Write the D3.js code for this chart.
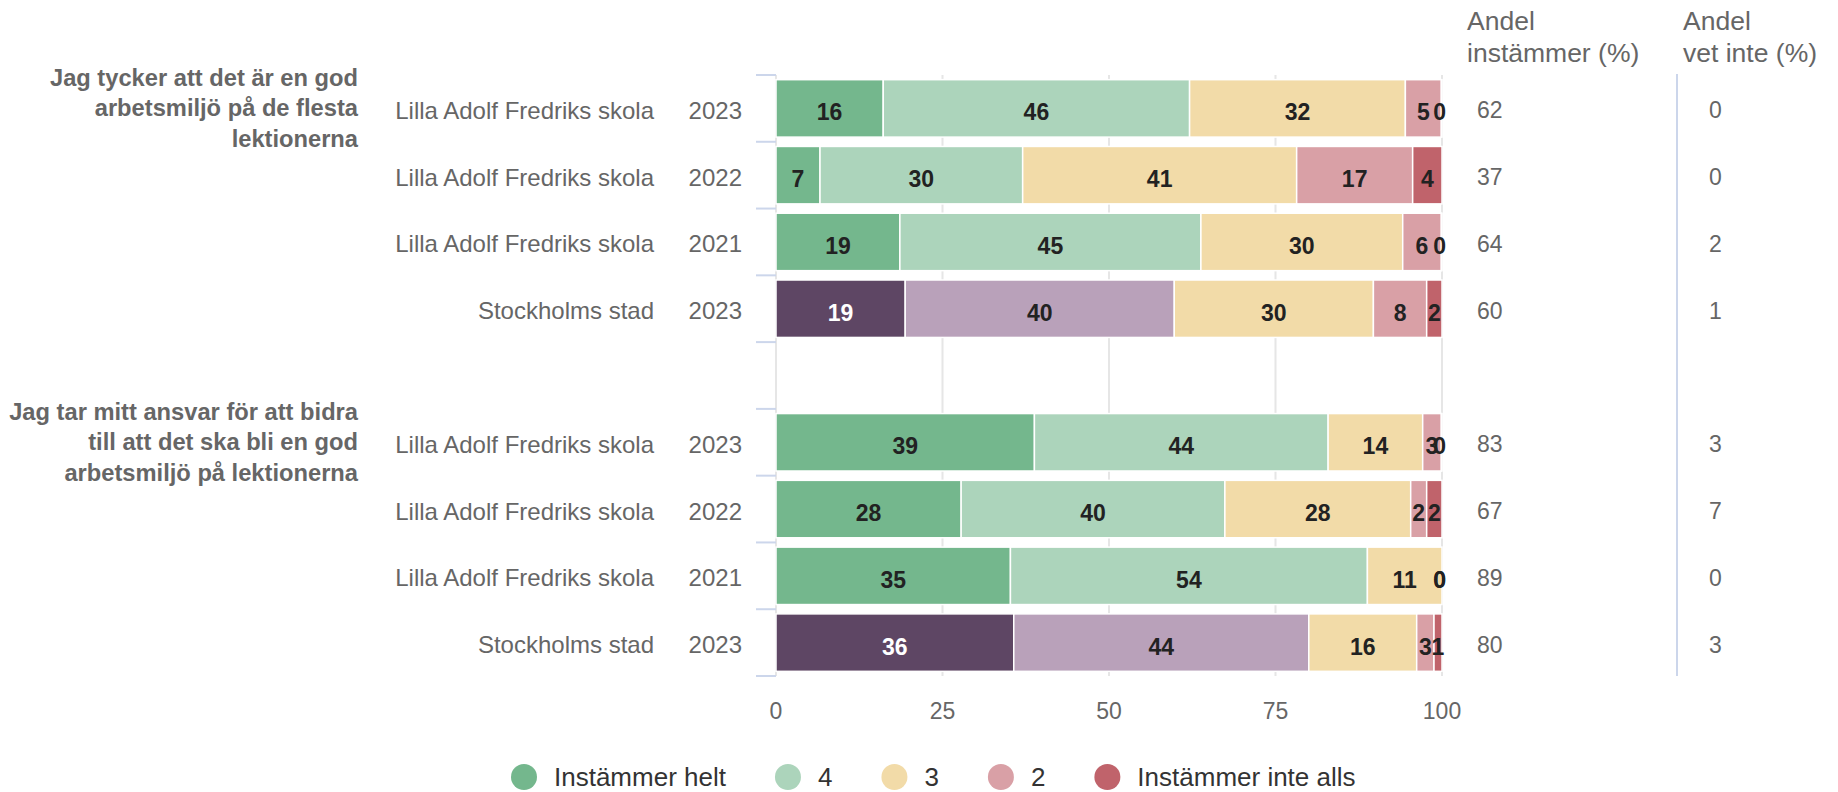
<!DOCTYPE html>
<html>
<head>
<meta charset="utf-8">
<script src="https://cdn.jsdelivr.net/npm/d3@7"></script>
<style>
  body { margin: 0; background: #fff; }
  text { font-family: Helvetica, Arial, "Liberation Sans", sans-serif; }
</style>
</head>
<body>
<div id="chart"></div>
<script>
// questions (split in lines as shown)
const questions = [
  ["Jag tycker att det är en god", "arbetsmiljö på de flesta", "lektionerna"],
  ["Jag tar mitt ansvar för att bidra", "till att det ska bli en god", "arbetsmiljö på lektionerna"]
];
const units = ["Lilla Adolf Fredriks skola", "Lilla Adolf Fredriks skola", "Lilla Adolf Fredriks skola", "Stockholms stad",
               "Lilla Adolf Fredriks skola", "Lilla Adolf Fredriks skola", "Lilla Adolf Fredriks skola", "Stockholms stad"];
const years = ["2023", "2022", "2021", "2023", "2023", "2022", "2021", "2023"];
const seriesNames = ["Instämmer helt", "4", "3", "2", "Instämmer inte alls"];

// values per answer (%), one entry per row
const helt     = [16.1,  6.6, 18.6, 19.4, 38.8, 27.8, 35.2, 35.7];
const fyra     = [46.0, 30.4, 45.2, 40.4, 44.1, 39.6, 53.6, 44.3];
const tre      = [32.4, 41.1, 30.3, 29.9, 14.2, 27.9, 11.2, 16.2];
const tva      = [ 5.4, 17.4,  5.8,  8.0,  2.8,  2.4,  0.0,  2.6];
const inteAlls = [ 0.1,  4.4,  0.1,  2.3,  0.1,  2.3,  0.0,  1.2];

const andelInstammer = [62, 37, 64, 60, 83, 67, 89, 80];
const andelVetInte   = [0, 0, 2, 1, 3, 7, 0, 3];
const xTicks = [0, 25, 50, 75, 100];

const colors = ["#74b78d", "#acd4bb", "#f2dba8", "#d9a0a6", "#c0636b"];
const cityColors = ["#5e4664", "#b9a1ba", "#f2dba8", "#d9a0a6", "#c0636b"];

const width = 1838, height = 792;
const svg = d3.select("#chart").append("svg")
  .attr("width", width).attr("height", height);

// row keys, with an empty slot between the two questions
const rowKeys = ["r0", "r1", "r2", "r3", "gap", "r4", "r5", "r6", "r7"];
const rowIndex = [0, 1, 2, 3, 4, 5, 6, 7];

const x = d3.scaleLinear().domain([0, 100]).range([776, 1442]);
const y = d3.scaleBand().domain(rowKeys).range([75, 676])
  .paddingInner(0.14).paddingOuter(0.07);

const rowKey = i => "r" + i;
const midY = i => y(rowKey(i)) + y.bandwidth() / 2;
const isCity = i => units[i] === "Stockholms stad";

// gridlines
svg.append("g").selectAll("line")
  .data(xTicks)
  .enter().append("line")
    .attr("x1", d => x(d)).attr("x2", d => x(d))
    .attr("y1", 75).attr("y2", 676)
    .attr("stroke", "#e6e6e6").attr("stroke-width", 2);

// left axis ticks on band boundaries
const step = y.step();
const boundaries = d3.range(rowKeys.length + 1).map(i => y(rowKeys[0]) - step * 0.07 + i * step);
svg.append("g").selectAll("line")
  .data(boundaries)
  .enter().append("line")
    .attr("x1", 756).attr("x2", 776)
    .attr("y1", d => d).attr("y2", d => d)
    .attr("stroke", "#ccd6eb").attr("stroke-width", 2);

// x axis labels
svg.append("g").selectAll("text")
  .data(xTicks)
  .enter().append("text")
    .attr("x", d => x(d)).attr("y", 719)
    .attr("text-anchor", "middle")
    .attr("fill", "#666").style("font-size", "23px")
    .text(d => d);

// stack segments
const allSeries = [helt, fyra, tre, tva, inteAlls];
const segments = [];
rowIndex.forEach(i => {
  const total = d3.sum(allSeries, s => s[i]);
  let cum = 0;
  allSeries.forEach((s, k) => {
    const v = s[i] / total * 100;
    segments.push({row: i, k: k, x0: cum, x1: cum + v, label: Math.round(s[i])});
    cum += v;
  });
});

svg.append("g").selectAll("rect")
  .data(segments.filter(d => d.x1 > d.x0))
  .enter().append("rect")
    .attr("x", d => x(d.x0))
    .attr("y", d => y(rowKey(d.row)))
    .attr("width", d => x(d.x1) - x(d.x0))
    .attr("height", y.bandwidth())
    .attr("fill", d => (isCity(d.row) ? cityColors : colors)[d.k])
    .attr("stroke", "#fff").attr("stroke-width", 1.5);

// data labels
svg.append("g").selectAll("text")
  .data(segments)
  .enter().append("text")
    .attr("y", d => midY(d.row) + 12)
    .attr("text-anchor", "middle")
    .attr("fill", d => (isCity(d.row) && d.k === 0) ? "#fff" : "#222")
    .style("font-size", "23px").style("font-weight", "bold")
    .text(d => d.label)
    .each(function(d) {
      const w = this.getComputedTextLength();
      let cx = x((d.x0 + d.x1) / 2);
      if (cx + w / 2 > x(100) + 4) cx = x(100) + 4 - w / 2;
      d3.select(this).attr("x", cx);
    });

// row labels
svg.append("g").selectAll("text")
  .data(rowIndex)
  .enter().append("text")
    .attr("x", 654).attr("y", i => midY(i) + 10.5)
    .attr("text-anchor", "end").attr("fill", "#666").style("font-size", "24px")
    .text(i => units[i]);
svg.append("g").selectAll("text")
  .data(rowIndex)
  .enter().append("text")
    .attr("x", 742).attr("y", i => midY(i) + 10.5)
    .attr("text-anchor", "end").attr("fill", "#666").style("font-size", "24px")
    .text(i => years[i]);

// question labels
questions.forEach((lines, q) => {
  const cy = midY(q * 4);
  svg.append("g").selectAll("text")
    .data(lines)
    .enter().append("text")
      .attr("x", 358).attr("y", (d, j) => cy + 8 + (j - 1) * 30.5)
      .attr("text-anchor", "end").attr("fill", "#666")
      .style("font-size", "23.7px").style("font-weight", "bold")
      .text(d => d);
});

// right columns
const headers = [["Andel", "instämmer (%)"], ["Andel", "vet inte (%)"]];
const colX = [1467, 1683];
headers.forEach((h, c) => {
  svg.append("g").selectAll("text")
    .data(h)
    .enter().append("text")
      .attr("x", colX[c]).attr("y", (d, j) => 30 + j * 32)
      .attr("fill", "#666").style("font-size", "26.5px")
      .text(d => d);
});
svg.append("g").selectAll("text")
  .data(rowIndex)
  .enter().append("text")
    .attr("x", 1477).attr("y", i => midY(i) + 10)
    .attr("fill", "#666").style("font-size", "23px")
    .text(i => andelInstammer[i]);
svg.append("g").selectAll("text")
  .data(rowIndex)
  .enter().append("text")
    .attr("x", 1709).attr("y", i => midY(i) + 10)
    .attr("fill", "#666").style("font-size", "23px")
    .text(i => andelVetInte[i]);
svg.append("line")
  .attr("x1", 1677).attr("x2", 1677).attr("y1", 74).attr("y2", 676)
  .attr("stroke", "#ccd6eb").attr("stroke-width", 2);

// legend
const legend = svg.append("g");
let lx = 524;
seriesNames.forEach((name, k) => {
  legend.append("circle")
    .attr("cx", lx).attr("cy", 777).attr("r", 13)
    .attr("fill", colors[k]);
  const t = legend.append("text")
    .attr("x", lx + 30).attr("y", 786)
    .attr("fill", "#333").style("font-size", "26px")
    .text(name);
  lx = lx + 30 + t.node().getComputedTextLength() + 62;
});
</script>
</body>
</html>
